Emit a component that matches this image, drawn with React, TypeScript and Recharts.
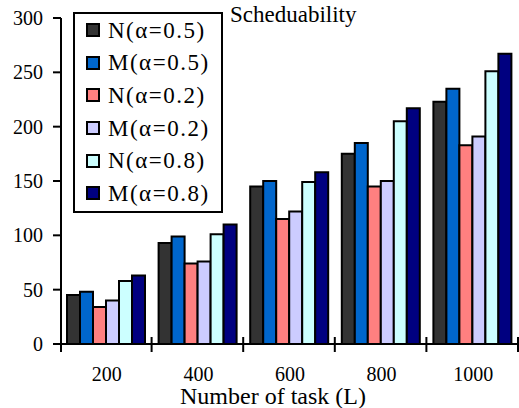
import React from "react";
import { BarChart, Bar, XAxis, YAxis, Legend, Label } from "recharts";

const categories = ["200", "400", "600", "800", "1000"];
const nHalf = [45, 93, 145, 175, 223];
const mHalf = [48, 99, 150, 185, 235];
const nLow = [34, 74, 115, 145, 183];
const mLow = [40, 76, 122, 150, 191];
const nHigh = [58, 101, 149, 205, 251];
const mHigh = [63, 110, 158, 217, 267];
const yTicks = [0, 50, 100, 150, 200, 250, 300];

const series = [
  { key: "nHalf", name: "N(α=0.5)", color: "#333333", values: nHalf },
  { key: "mHalf", name: "M(α=0.5)", color: "#0066CC", values: mHalf },
  { key: "nLow", name: "N(α=0.2)", color: "#FF8080", values: nLow },
  { key: "mLow", name: "M(α=0.2)", color: "#CCCCFF", values: mLow },
  { key: "nHigh", name: "N(α=0.8)", color: "#CCFFFF", values: nHigh },
  { key: "mHigh", name: "M(α=0.8)", color: "#000080", values: mHigh },
];

const data = categories.map((c, i) => {
  const row: Record<string, string | number> = { task: c };
  series.forEach((s) => (row[s.key] = s.values[i]));
  return row;
});

const WIDTH = 519;
const HEIGHT = 408;
const LEFT = 61;
const RIGHT = 0;
const FONT = "'Liberation Serif', 'Times New Roman', serif";
const band = (WIDTH - LEFT - RIGHT) / categories.length;

function TaskTick(props: any) {
  const { x, y, payload, index } = props;
  return (
    <g>
      <line x1={x + band / 2 - 1} x2={x + band / 2 - 1} y1={y - 7} y2={y + 8} stroke="#000" strokeWidth={2} />
      {index === 0 && (
        <line x1={x - band / 2} x2={x - band / 2} y1={y} y2={y + 8} stroke="#000" strokeWidth={2} />
      )}
      <text x={x} y={y + 37} textAnchor="middle" fontSize={20} fontFamily={FONT} fill="#000">
        {payload.value}
      </text>
    </g>
  );
}

function LegendBox() {
  return (
    <div
      style={{
        width: 150,
        height: 201,
        boxSizing: "border-box",
        border: "2px solid #000",
        background: "#fff",
        paddingLeft: 11,
      }}
    >
      {series.map((s) => (
        <div key={s.key} style={{ height: 32.6, display: "flex", alignItems: "center" }}>
          <span
            style={{
              width: 14,
              height: 14,
              boxSizing: "border-box",
              border: "2px solid #000",
              background: s.color,
              marginRight: 8,
              display: "inline-block",
            }}
          />
          <span style={{ fontFamily: FONT, fontSize: 23, letterSpacing: 1.5, color: "#000", lineHeight: 1 }}>
            {s.name}
          </span>
        </div>
      ))}
    </div>
  );
}

export default function App() {
  return (
    <div style={{ position: "absolute", left: 0, top: 0, width: WIDTH, height: HEIGHT, background: "#fff" }}>
      <BarChart
        width={WIDTH}
        height={HEIGHT}
        data={data}
        margin={{ top: 18, right: RIGHT, left: 0, bottom: 0 }}
        barCategoryGap={6}
        barGap={0}
      >
        <XAxis
          dataKey="task"
          height={64}
          tickLine={false}
          tickSize={0}
          tickMargin={0}
          axisLine={{ stroke: "#000", strokeWidth: 2 }}
          tick={<TaskTick />}
          interval={0}
        >
          <Label
            value="Number of task (L)"
            position="insideBottom"
            offset={4}
            dx={-17}
            style={{ fontFamily: FONT, fontSize: 24, fill: "#000" }}
          />
        </XAxis>
        <YAxis
          width={LEFT}
          domain={[0, 300]}
          ticks={yTicks}
          interval={0}
          tickSize={8}
          tickMargin={10}
          axisLine={{ stroke: "#000", strokeWidth: 2 }}
          tickLine={{ stroke: "#000", strokeWidth: 2 }}
          tick={{ fill: "#000", fontSize: 20, fontFamily: FONT }}
        />
        <Legend
          layout="vertical"
          align="center"
          verticalAlign="middle"
          content={<LegendBox />}
          wrapperStyle={{ position: "absolute", left: 73, top: 12, width: 150, height: 201 }}
        />
        {series.map((s) => (
          <Bar
            key={s.key}
            dataKey={s.key}
            name={s.name}
            fill={s.color}
            stroke="#000"
            strokeWidth={2}
            isAnimationActive={false}
          />
        ))}
      </BarChart>
      <div
        style={{
          position: "absolute",
          left: 230,
          top: 0,
          fontFamily: FONT,
          fontSize: 23,
          lineHeight: "30px",
          color: "#000",
        }}
      >
        Scheduability
      </div>
    </div>
  );
}
